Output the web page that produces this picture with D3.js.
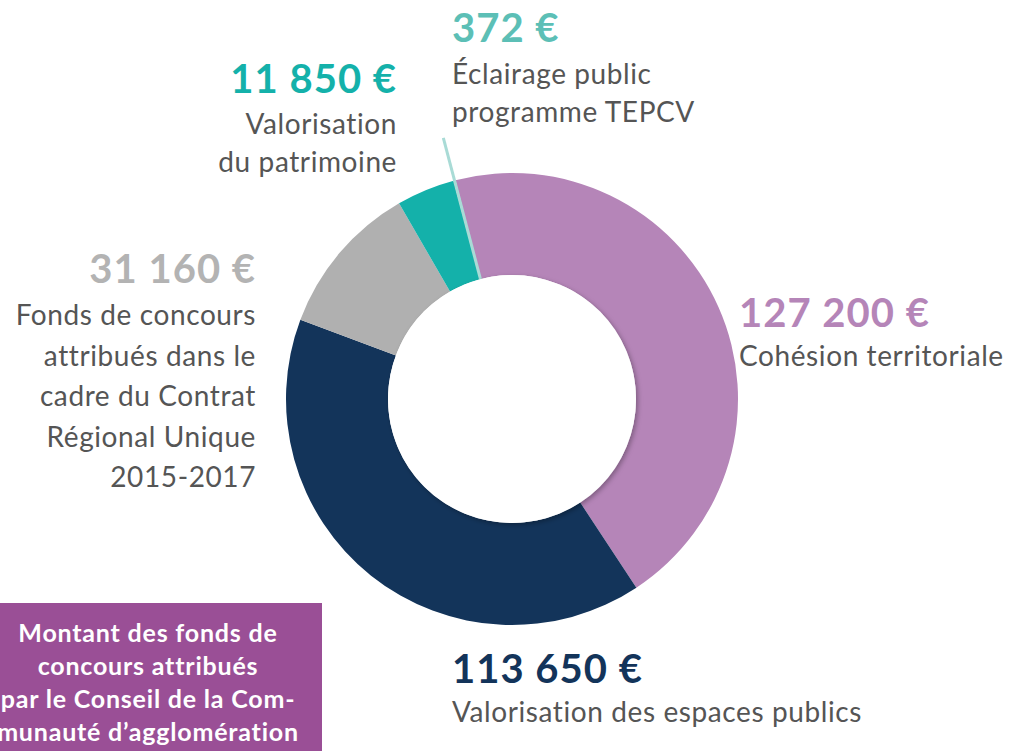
<!DOCTYPE html>
<html>
<head>
<meta charset="utf-8">
<script src="https://cdn.jsdelivr.net/npm/d3@7"></script>
<style>
  body { margin: 0; background: #fff; }
  text { font-family: Lato, "Open Sans", sans-serif; }
</style>
</head>
<body>
<div id="vis"></div>
<script>
// slice data (clockwise order, starting just left of 12 o'clock)
let categories = ["Cohésion territoriale", "Valorisation des espaces publics",
    "Fonds de concours CRU", "Valorisation du patrimoine", "Éclairage public TEPCV"]
let values = [127200, 113650, 31160, 11850, 372]
let valueLabels = ["127 200 €", "113 650 €", "31 160 €", "11 850 €", "372 €"]
let colors = ["#b585b8", "#13345a", "#b0b0b0", "#14b1aa", "#a9dbd6"]
let valueColors = ["#b585b8", "#13345a", "#b3b3b3", "#14b1aa", "#5cbfb6"]
let labelLines = [
    ["Cohésion territoriale"],
    ["Valorisation des espaces publics"],
    ["Fonds de concours", "attribués dans le", "cadre du Contrat", "Régional Unique", "2015-2017"],
    ["Valorisation", "du patrimoine"],
    ["Éclairage public", "programme TEPCV"]
]
let titleLines = ["Montant des fonds de", "concours attribués", "par le Conseil de la Com-", "munauté d’agglomération"]

let svg = d3.select("#vis")
    .append('svg')
    .attr('width', 1016)
    .attr('height', 751)

let cx = 512, cy = 399
let outerR = 226, innerR = 124
let start = -14.5 * Math.PI / 180

let pie = d3.pie().sort(null).startAngle(start).endAngle(start + 2 * Math.PI)
let arcs = pie(values)
let arc = d3.arc().innerRadius(innerR).outerRadius(outerR)

let defs = svg.append('defs')
let f = defs.append('filter').attr('id', 'shadow')
    .attr('x', '-20%').attr('y', '-20%').attr('width', '140%').attr('height', '140%')
f.append('feDropShadow').attr('dx', 2).attr('dy', 2).attr('stdDeviation', 2.5)
    .attr('flood-color', '#000').attr('flood-opacity', 0.3)

let g = svg.append('g').attr('transform', `translate(${cx},${cy})`)

g.selectAll('path.slice')
    .data(arcs)
    .join('path')
    .attr('class', 'slice')
    .attr('d', arc)
    .attr('fill', (d, i) => colors[i])

// tiny slice gets a leader line running out past the ring
let tiny = arcs[4]
let mid = (tiny.startAngle + tiny.endAngle) / 2
g.append('line')
    .attr('x1', Math.sin(mid) * innerR).attr('y1', -Math.cos(mid) * innerR)
    .attr('x2', Math.sin(mid) * 270).attr('y2', -Math.cos(mid) * 270)
    .attr('stroke', colors[4])
    .attr('stroke-width', 3)

// hole with soft shadow
g.append('circle')
    .attr('r', innerR)
    .attr('fill', '#fff')
    .attr('filter', 'url(#shadow)')

// labels: [x, value baseline, anchor, first text baseline, line step]
let labelPos = [
    [739, 327, 'start', 366, 38],
    [452, 683, 'start', 722, 38],
    [256, 283, 'end', 325, 40.5],
    [397, 93, 'end', 134, 38],
    [452, 42, 'start', 84, 38]
]

labelPos.forEach((p, i) => {
    svg.append('text')
        .attr('x', p[0]).attr('y', p[1])
        .attr('text-anchor', p[2])
        .attr('font-size', 40)
        .attr('font-weight', 'bold')
        .attr('letter-spacing', 1)
        .attr('fill', valueColors[i])
        .text(valueLabels[i])
    labelLines[i].forEach((t, j) => {
        svg.append('text')
            .attr('x', p[0]).attr('y', p[3] + j * p[4])
            .attr('text-anchor', p[2])
            .attr('font-size', 28)
            .attr('letter-spacing', 0.6)
            .attr('fill', '#555')
            .text(t)
    })
})

// title box bottom-left
svg.append('rect')
    .attr('x', -30).attr('y', 603)
    .attr('width', 352).attr('height', 160)
    .attr('fill', '#9a4f96')

titleLines.forEach((t, j) => {
    svg.append('text')
        .attr('x', 148).attr('y', 642 + j * 33)
        .attr('text-anchor', 'middle')
        .attr('font-size', 25)
        .attr('font-weight', 'bold')
        .attr('letter-spacing', 0.8)
        .attr('fill', '#fff')
        .text(t)
})
</script>
</body>
</html>
